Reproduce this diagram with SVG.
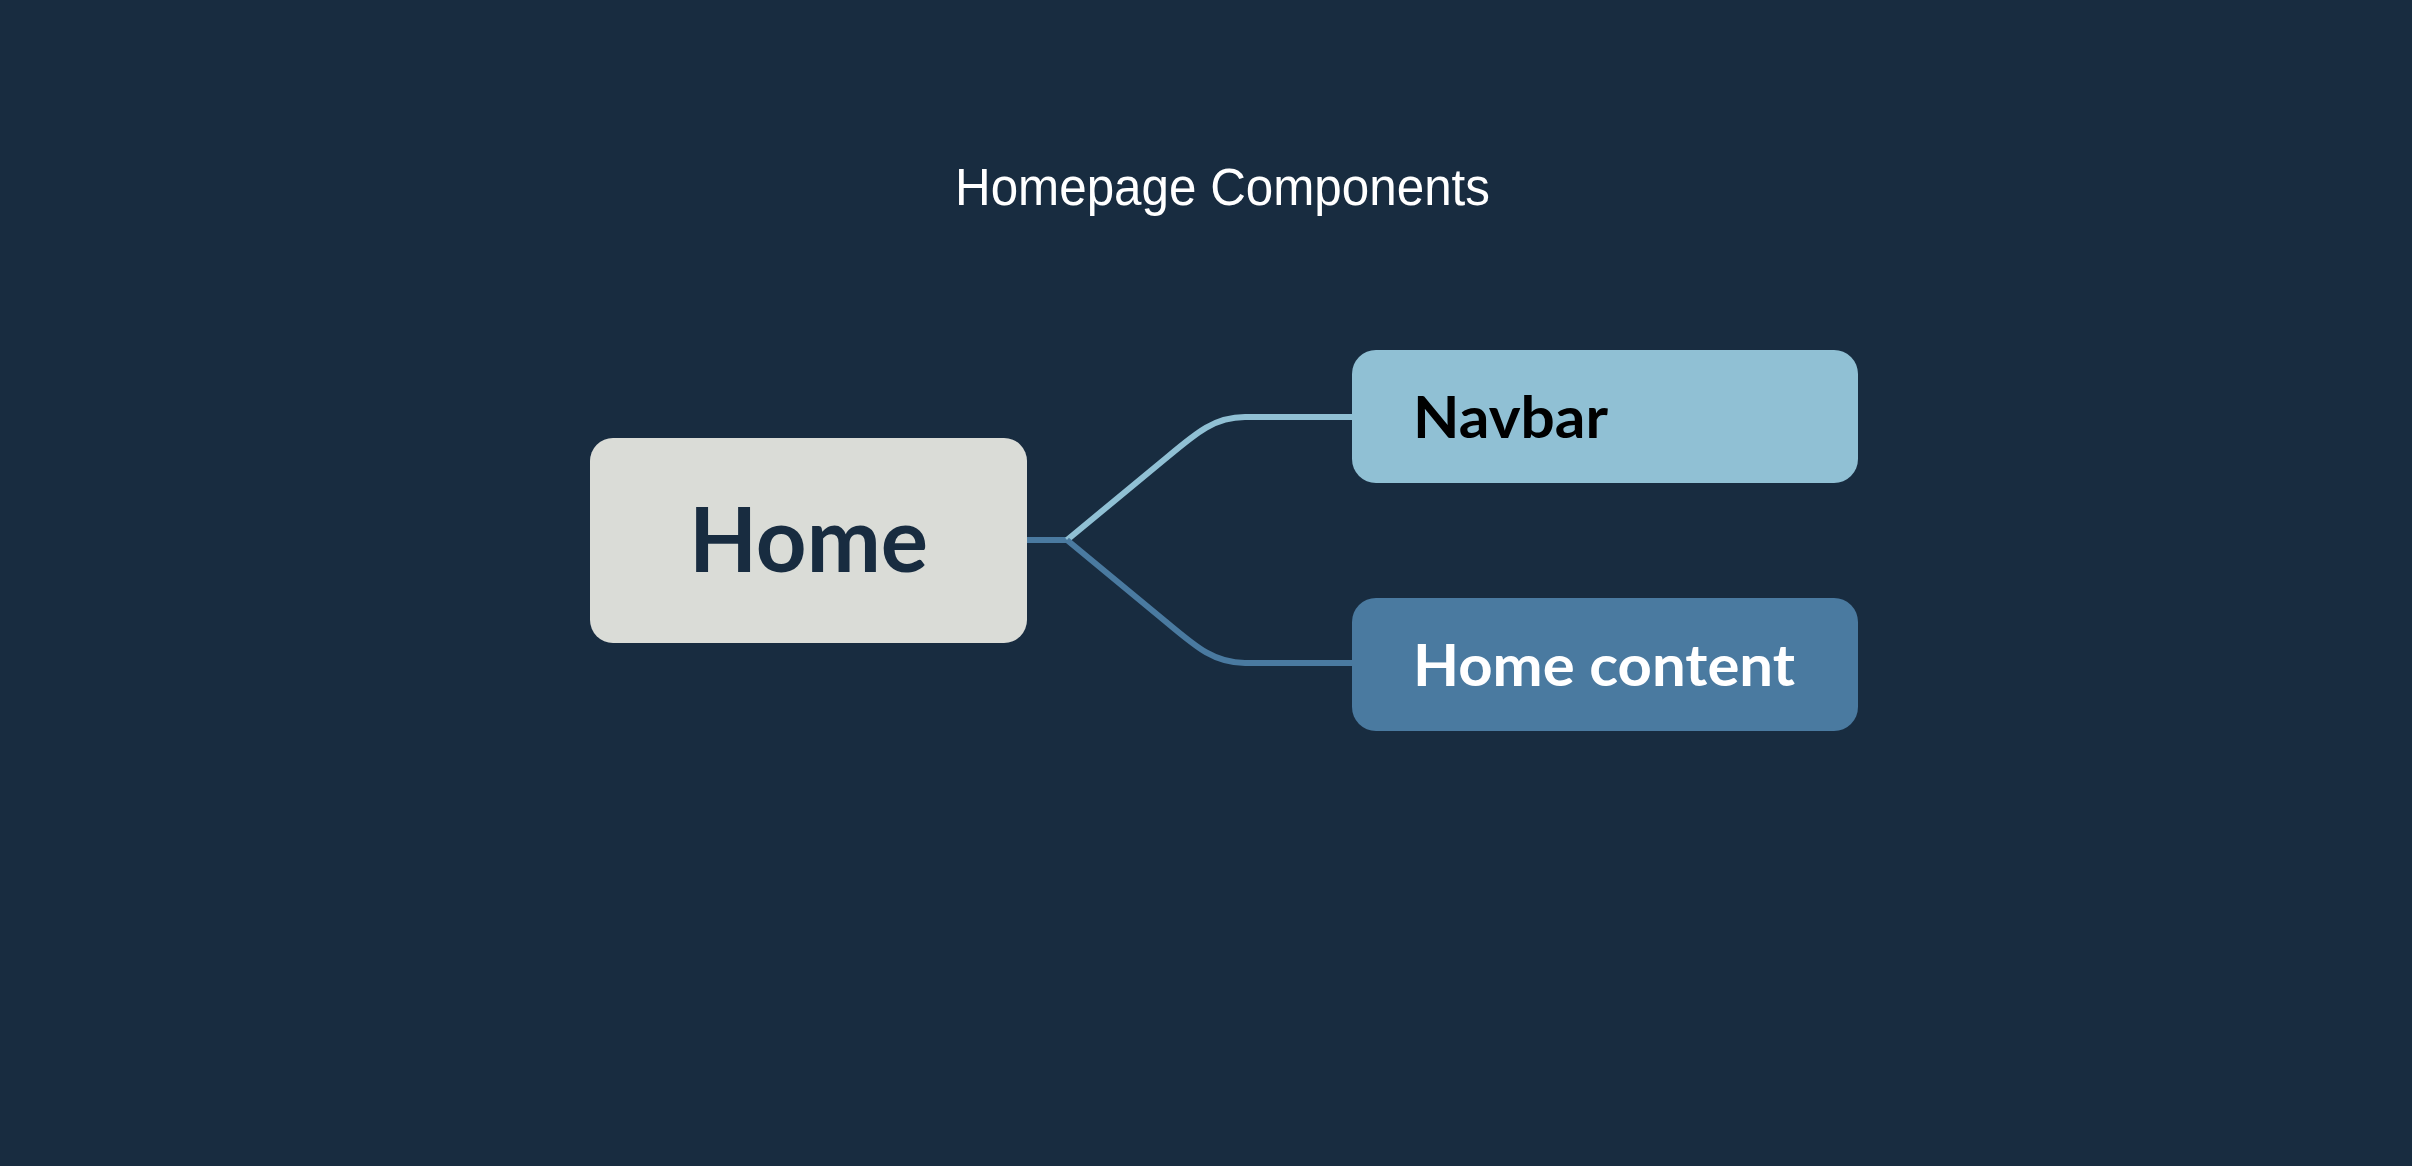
<svg xmlns="http://www.w3.org/2000/svg" width="2412" height="1166" viewBox="0 0 2412 1166">
<style>
.title{font-family:"Liberation Sans",Arial,sans-serif;font-size:51px;fill:#ffffff}
.lbl{font-family:Lato,"Noto Sans",sans-serif;font-weight:700}
.conn{fill:none;stroke-width:6;stroke-linejoin:round}
</style>
<rect x="0" y="0" width="2412" height="1166" fill="#182c40"/>
<text class="title" x="955" y="205" textLength="535" lengthAdjust="spacingAndGlyphs">Homepage Components</text>
<g id="connectors">
<path class="conn" stroke="#4a7aa0" d="M1026,540 L1067,540"/>
<path class="conn" stroke="#90c0d4" d="M1067,540 L1165,459 C1196,433 1214,417 1245,417 L1354,417"/>
<path class="conn" stroke="#4a7aa0" d="M1067,540 L1165,621 C1196,647 1214,663 1245,663 L1354,663"/>
</g>
<g id="home">
<rect x="590" y="438" width="437" height="205" rx="23" fill="#dadcd7"/>
<text class="lbl" x="689" y="572" font-size="89" fill="#182c40" textLength="239" lengthAdjust="spacingAndGlyphs">Home</text>
</g>
<g id="navbar">
<rect x="1352" y="350" width="506" height="133" rx="24" fill="#90c0d4"/>
<text class="lbl" x="1413" y="438" font-size="58" fill="#000000" textLength="195" lengthAdjust="spacingAndGlyphs">Navbar</text>
</g>
<g id="home-content">
<rect x="1352" y="598" width="506" height="133" rx="24" fill="#4a7aa0"/>
<text class="lbl" x="1413" y="686" font-size="58" fill="#ffffff" textLength="382" lengthAdjust="spacingAndGlyphs">Home content</text>
</g>
</svg>
